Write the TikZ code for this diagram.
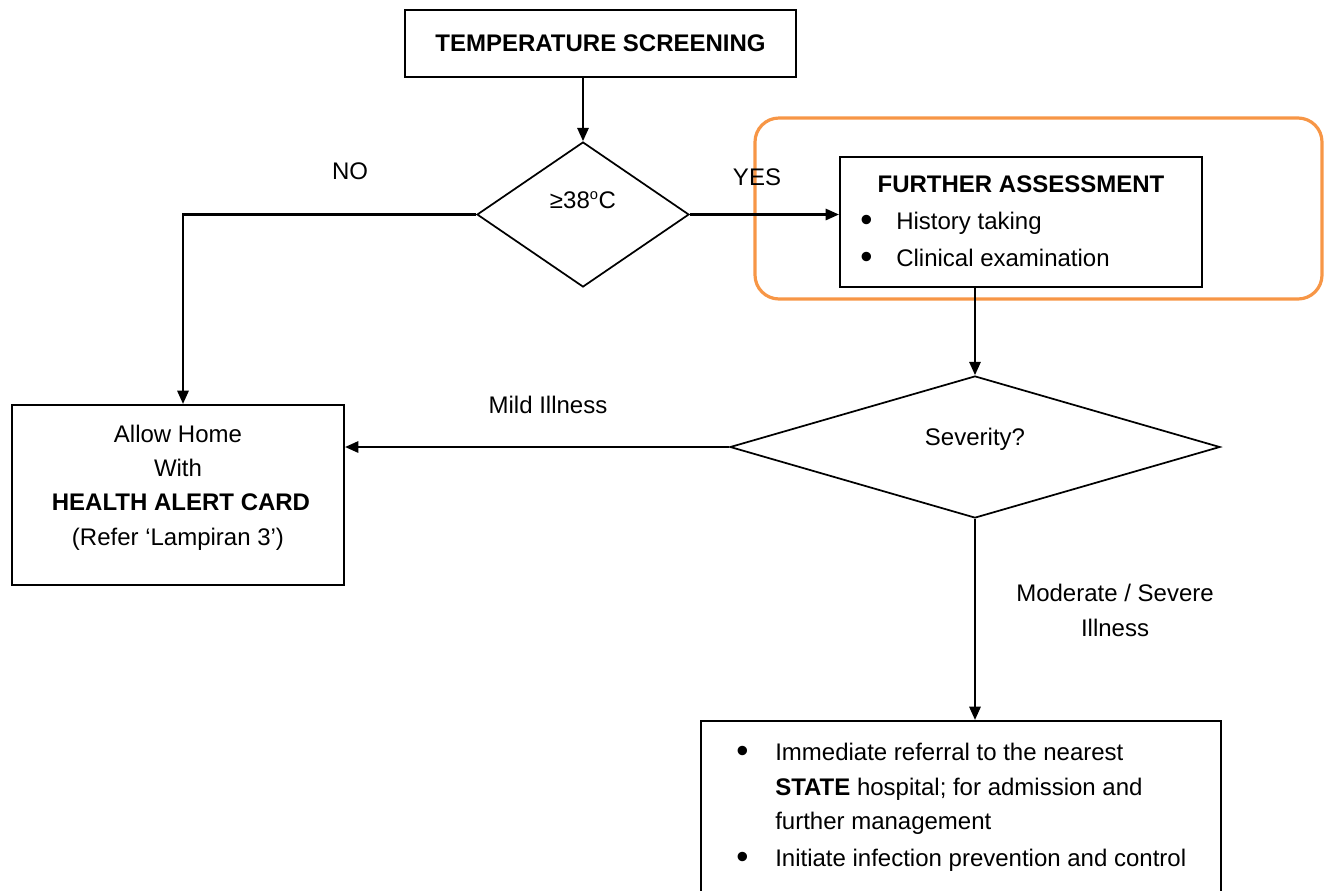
\documentclass[tikz,border=0pt]{standalone}
\usepackage{fontspec}
\setmainfont{Liberation Sans}
\usetikzlibrary{shapes.geometric,arrows.meta}
\definecolor{hlorange}{RGB}{247,150,70}
\newcommand{\bigbul}{{\fontsize{26}{26}\selectfont •}}
\begin{document}
\begin{tikzpicture}[x=0.75pt,y=-0.75pt,
  every node/.style={font=\fontsize{18}{26}\selectfont, inner sep=0pt},
  box/.style={draw, line width=1.6pt, rectangle},
  dia/.style={draw, line width=1.3pt, diamond},
  conn/.style={line width=1.6pt, -{Triangle[length=10pt,width=8.5pt]}},
  txt/.style={anchor=base west},
  ctxt/.style={anchor=base}]
\clip (0,0) rectangle (1324,890);
% boxes
\node[box, minimum width=293.25pt, minimum height=50.25pt] (temp) at (600.5,43.5) {\textbf{TEMPERATURE SCREENING}};
\node[dia, minimum width=159pt, minimum height=108.75pt] (d1) at (583,214.5) {};
\node[box, minimum width=271.5pt, minimum height=97.5pt] (fa) at (1021,222) {};
\node[dia, minimum width=367.5pt, minimum height=106.5pt] (d2) at (975,447) {};
\node[box, minimum width=249pt, minimum height=135pt] (home) at (178,495) {};
\node[box, minimum width=390pt, minimum height=134.25pt] (refer) at (961,810.5) {};
\node[draw=hlorange, line width=2.4pt, rounded corners=18pt, minimum width=425.25pt, minimum height=135.75pt] (hl) at (1038.5,208.5) {};
% texts
\node[ctxt] (t38) at (583,208) {≥38\textsuperscript{\fontsize{11}{11}\selectfont o}C};
\node[ctxt] (tsev) at (975,445) {Severity?};
\node[ctxt] (tno) at (350,179) {NO};
\node[ctxt] (tyes) at (757,185) {YES};
\node[ctxt] (tmild) at (548,413) {Mild Illness};
\node[ctxt] (tmod1) at (1115,601) {Moderate / Severe};
\node[ctxt] (tmod2) at (1115,636) {Illness};
% further assessment
\node[ctxt] (fat) at (1021,192) {\textbf{FURTHER ASSESSMENT}};
\node[txt] (fab1) at (860,231) {\bigbul};
\node[txt] (fal1) at (896,229) {History taking};
\node[txt] (fab2) at (860,268) {\bigbul};
\node[txt] (fal2) at (896,266) {Clinical examination};
% allow home
\node[ctxt] (h1) at (178,442) {Allow Home};
\node[ctxt] (h2) at (178,476) {With};
\node[ctxt] (h3) at (181,510) {\textbf{HEALTH ALERT CARD}};
\node[ctxt] (h4) at (178,545) {(Refer ‘Lampiran 3’)};
% referral
\node[txt] (rb1) at (736,762) {\bigbul};
\node[txt] (rl1) at (775,760) {Immediate referral to the nearest};
\node[txt] (rl2) at (775,795) {\textbf{STATE} hospital; for admission and};
\node[txt] (rl3) at (775,829) {further management};
\node[txt] (rb2) at (736,868) {\bigbul};
\node[txt] (rl4) at (775,866) {Initiate infection prevention and control};
% connectors
\draw[conn] (temp.south -| d1.north) -- (d1.north);
\draw[conn] (d1.west) -| ([xshift=3.75pt]home.north);
\draw[conn] (d1.east) -- (d1.east -| fa.west);
\draw[conn] (d2.north |- fa.south) -- (d2.north);
\draw[conn] (d2.west) -- (d2.west -| home.east);
\draw[conn] (d2.south) -- (d2.south |- refer.north);
\end{tikzpicture}
\end{document}
